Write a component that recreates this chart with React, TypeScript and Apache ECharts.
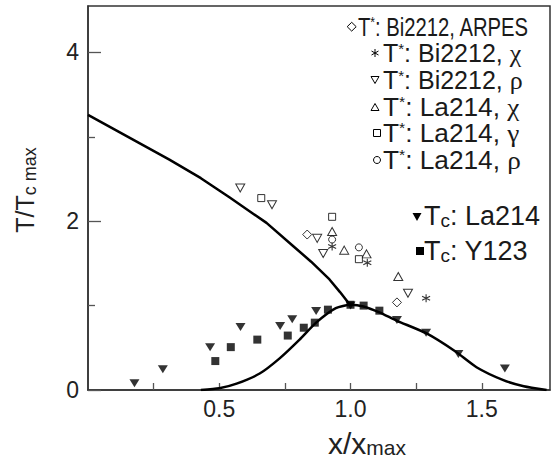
import React, { useEffect, useRef } from 'react';
import * as echarts from 'echarts';

// ---- data (x/x_max, T/Tc_max) ----
const tStarCurve = [[0, 3.26], [0.31, 2.73], [0.43, 2.51], [0.54, 2.28], [0.68, 1.98], [0.78, 1.71], [0.85, 1.52], [0.92, 1.31], [0.96, 1.16], [1.0, 1.0]];
const tcDome = [[0.43, 0], [0.5, 0.02], [0.566, 0.075], [0.654, 0.195], [0.73, 0.375], [0.806, 0.597], [0.869, 0.798], [0.944, 0.97], [1.0, 1.01], [1.05, 0.99], [1.11, 0.92], [1.177, 0.82], [1.29, 0.67], [1.4, 0.456], [1.48, 0.27], [1.58, 0.12], [1.66, 0.045], [1.747, 0]];
const bi2212Arpes = [[0.835, 1.842], [1.177, 1.038]];
const bi2212Chi = [[0.93, 1.7], [1.064, 1.507], [1.288, 1.088]];
const bi2212Rho = [[0.58, 2.393], [0.701, 2.195], [0.873, 1.797], [0.896, 1.617], [1.219, 1.147]];
const la214Chi = [[0.93, 1.878], [0.976, 1.657], [1.061, 1.613], [1.182, 1.344]];
const la214Gamma = [[0.66, 2.274], [0.93, 2.052], [1.032, 1.55]];
const la214Rho = [[0.93, 1.783], [1.032, 1.69]];
const tcLa214 = [[0.177, 0.08], [0.285, 0.246], [0.465, 0.508], [0.581, 0.746], [0.732, 0.758], [0.778, 0.839], [0.869, 0.935], [1.0, 1.0], [1.177, 0.83], [1.288, 0.677], [1.411, 0.427], [1.588, 0.254]];
const tcY123 = [[0.485, 0.343], [0.544, 0.508], [0.645, 0.597], [0.761, 0.645], [0.822, 0.738], [0.864, 0.798], [0.914, 0.952], [1.0, 1.01], [1.05, 1.0], [1.11, 0.94]];

const xTickLabels = [0.5, 1.0, 1.5];
const xMinorTicks = [0.25, 0.5, 0.75, 1.0, 1.25, 1.5];
const yTickLabels = [0, 2, 4];
const yMinorTicks = [1, 3];

const legendTexts = [
  '{t|T}{s|*}{t|: Bi2212, ARPES}',
  '{t|T}{s|*}{t|: Bi2212, }{g|χ}',
  '{t|T}{s|*}{t|: Bi2212, }{g|ρ}',
  '{t|T}{s|*}{t|: La214, }{g|χ}',
  '{t|T}{s|*}{t|: La214, }{g|γ}',
  '{t|T}{s|*}{t|: La214, }{g|ρ}',
  '{T|T}{c|c}{T|: La214}',
  '{T|T}{c|c}{T|: Y123}',
];

const FONT = '"Liberation Sans", Arial, Helvetica, sans-serif';
const SERIF = '"Liberation Serif", "Times New Roman", serif';

const asteriskPath = 'path://M5,0L5,10M0.67,2.5L9.33,7.5M0.67,7.5L9.33,2.5';

export default function App() {
  const ref = useRef<HTMLDivElement>(null);
  useEffect(() => {
    const chart = echarts.init(ref.current!, null, { renderer: 'svg' });
    const open = { color: '#fff', borderColor: '#000', borderWidth: 1 };
    const lineStyle = { color: '#333', width: 1.5 };
    const tickStyle = { color: '#555', width: 1.3 };
    const ink = '#1a1a1a';

    const richLegend = {
      t: { fontSize: 25, fontFamily: FONT, fill: ink, lineHeight: 25 },
      s: { fontSize: 15, fontFamily: FONT, fill: ink, lineHeight: 10, verticalAlign: 'top' },
      g: { fontSize: 26, fontFamily: SERIF, fill: ink, lineHeight: 25 },
      T: { fontSize: 27, fontFamily: FONT, fill: ink, lineHeight: 28 },
      c: { fontSize: 19, fontFamily: FONT, fill: ink, lineHeight: 6, verticalAlign: 'bottom' },
    };
    const rowY = [27, 53, 80, 107, 133, 160, 216, 251];
    const rowX = [358, 383, 383, 383, 383, 383, 424, 424];
    const rowScale = [0.81, 1, 1, 1.05, 1.05, 1.05, 1, 1];
    const legendGraphics: any[] = legendTexts.map((txt, i) => ({
      type: 'text',
      x: rowX[i],
      y: rowY[i],
      scaleX: rowScale[i],
      style: { text: txt, rich: richLegend, align: 'left', verticalAlign: 'middle', fill: ink },
    }));
    const st = { stroke: '#000', lineWidth: 1, fill: '#fff' };
    const stF = { fill: '#000' };
    const markers: any[] = [
      { type: 'polygon', shape: { points: [[351.7, 22.3], [356.2, 26.7], [351.7, 31.1], [347.2, 26.7]] }, style: st },
      { type: 'line', shape: { x1: 375, y1: 49, x2: 375, y2: 57 }, style: { stroke: '#000', lineWidth: 1 } },
      { type: 'line', shape: { x1: 371.5, y1: 51, x2: 378.5, y2: 55 }, style: { stroke: '#000', lineWidth: 1 } },
      { type: 'line', shape: { x1: 371.5, y1: 55, x2: 378.5, y2: 51 }, style: { stroke: '#000', lineWidth: 1 } },
      { type: 'polygon', shape: { points: [[371, 76.5], [379, 76.5], [375, 83.5]] }, style: st },
      { type: 'polygon', shape: { points: [[371, 110.5], [379, 110.5], [375, 103.5]] }, style: st },
      { type: 'rect', shape: { x: 373.5, y: 129.5, width: 7, height: 7 }, style: st },
      { type: 'circle', shape: { cx: 377, cy: 160, r: 3.5 }, style: st },
      { type: 'polygon', shape: { points: [[412.5, 213], [421.5, 213], [417, 221]] }, style: stF },
      { type: 'rect', shape: { x: 416, y: 247, width: 8, height: 8 }, style: stF },
    ];

    const option: any = {
      animation: false,
      backgroundColor: '#fff',
      grid: { left: 88, right: 6, top: 6, bottom: 69, show: true, borderColor: '#333', borderWidth: 1.5 },
      xAxis: {
        type: 'value', min: 0, max: 1.76,
        axisLine: { show: true, onZero: false, lineStyle },
        axisTick: { show: true, inside: true, length: 7, lineStyle: tickStyle, customValues: xMinorTicks },
        axisLabel: {
          customValues: xTickLabels, margin: 7, fontSize: 23, fontFamily: FONT, color: '#222',
          formatter: (v: number) => v.toFixed(1),
        },
        splitLine: { show: false },
      },
      yAxis: [
        {
          type: 'value', min: 0, max: 4.55,
          axisLine: { show: true, onZero: false, lineStyle },
          axisTick: { show: true, inside: true, length: 13, lineStyle: tickStyle, customValues: yTickLabels },
          axisLabel: { customValues: yTickLabels, margin: 9, fontSize: 23, fontFamily: FONT, color: '#222' },
          splitLine: { show: false },
        },
        {
          type: 'value', min: 0, max: 4.55, position: 'left',
          axisLine: { show: false },
          axisTick: { show: true, inside: true, length: 7, lineStyle: tickStyle, customValues: yMinorTicks },
          axisLabel: { show: false },
          splitLine: { show: false },
        },
      ],
      series: [
        { type: 'line', data: tStarCurve, showSymbol: false, symbol: 'none', lineStyle: { color: '#000', width: 2.5 }, z: 1 },
        { type: 'line', data: tcDome, showSymbol: false, symbol: 'none', smooth: 0.2, lineStyle: { color: '#000', width: 2.5 }, z: 1 },
        { type: 'scatter', data: bi2212Arpes, symbol: 'diamond', symbolSize: [9, 9], itemStyle: open, z: 3 },
        { type: 'scatter', data: bi2212Chi, symbol: asteriskPath, symbolSize: [8, 8], itemStyle: { color: 'none', borderColor: '#000', borderWidth: 1.1 }, z: 3 },
        { type: 'scatter', data: bi2212Rho, symbol: 'triangle', symbolRotate: 180, symbolSize: [9, 8], itemStyle: open, z: 3 },
        { type: 'scatter', data: la214Chi, symbol: 'triangle', symbolSize: [9, 8], itemStyle: open, z: 3 },
        { type: 'scatter', data: la214Gamma, symbol: 'rect', symbolSize: [7, 7], itemStyle: open, z: 3 },
        { type: 'scatter', data: la214Rho, symbol: 'circle', symbolSize: [7, 7], itemStyle: open, z: 3 },
        { type: 'scatter', data: tcLa214, symbol: 'triangle', symbolRotate: 180, symbolSize: [10, 8], itemStyle: { color: '#000' }, z: 4 },
        { type: 'scatter', data: tcY123, symbol: 'rect', symbolSize: [8, 8], itemStyle: { color: '#000' }, z: 4 },
      ],
      graphic: [
        {
          type: 'text', x: 367, y: 443,
          style: {
            text: '{a|x/x}{b|max}', align: 'center', verticalAlign: 'middle', fill: '#222',
            rich: {
              a: { fontSize: 30, fontFamily: FONT, fill: '#222', lineHeight: 30 },
              b: { fontSize: 21, fontFamily: FONT, fill: '#222', lineHeight: 16, verticalAlign: 'bottom' },
            },
          },
        },
        {
          type: 'text', x: 25, y: 190, rotation: Math.PI / 2,
          style: {
            text: '{a|T/T}{b|c max}', align: 'center', verticalAlign: 'middle', fill: '#222',
            rich: {
              a: { fontSize: 25, fontFamily: FONT, fill: '#222', lineHeight: 28 },
              b: { fontSize: 18, fontFamily: FONT, fill: '#222', lineHeight: 6, verticalAlign: 'bottom' },
            },
          },
        },
        ...legendGraphics,
        ...markers,
      ],
    };
    chart.setOption(option);
    return () => chart.dispose();
  }, []);
  return <div ref={ref} style={{ position: 'fixed', left: 0, top: 0, width: 556, height: 459, background: '#fff' }} />;
}
